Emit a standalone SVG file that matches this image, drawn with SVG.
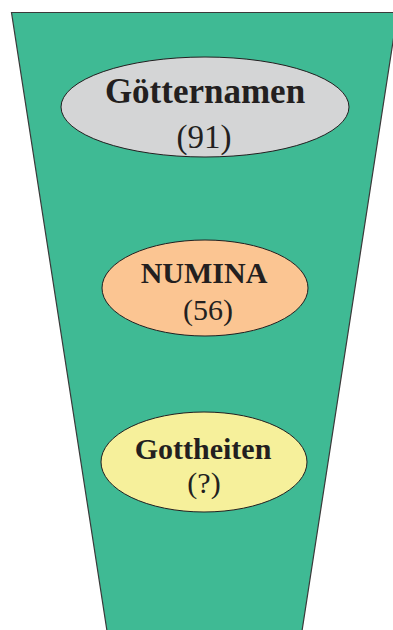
<svg xmlns="http://www.w3.org/2000/svg" width="393" height="630" viewBox="0 0 393 630">
<style>
.node ellipse{stroke:#231f20;stroke-width:1}
.t{font-family:"Liberation Serif","Times New Roman",serif;fill:#231f20;text-anchor:middle}
.b{font-weight:bold}
</style>
<rect width="393" height="630" fill="#ffffff"/>
<polygon id="funnel" points="11.5,12.5 397.5,12.5 302,631 107,631" fill="#3fba94" stroke="#3a3a3a" stroke-width="1.2"/>
<g id="connectors"></g>
<g id="goetternamen" class="node">
<ellipse cx="205" cy="107" rx="144" ry="50" fill="#d4d5d6"/>
<text class="t b" x="205" y="103" font-size="35">Götternamen</text>
<text class="t" x="204" y="148" font-size="33">(91)</text>
</g>
<g id="numina" class="node">
<ellipse cx="205" cy="288" rx="103" ry="48" fill="#fbc592"/>
<text class="t b" x="204" y="283" font-size="30">NUMINA</text>
<text class="t" x="208" y="320" font-size="30">(56)</text>
</g>
<g id="gottheiten" class="node">
<ellipse cx="204" cy="462" rx="103" ry="50" fill="#f6f09b"/>
<text class="t b" x="203" y="459" font-size="30">Gottheiten</text>
<text class="t" x="204" y="493" font-size="30">(?)</text>
</g>
</svg>
